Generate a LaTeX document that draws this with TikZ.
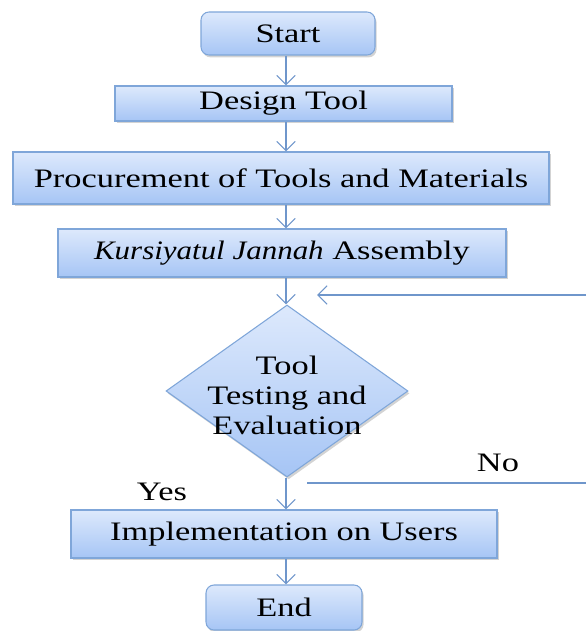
\documentclass[tikz,border=0pt]{standalone}
\usepackage{fontspec}
\setmainfont{Liberation Serif}[FakeStretch=1.29]
\usetikzlibrary{shapes.geometric,arrows.meta,shadows}
\definecolor{boxtop}{HTML}{DDE9FC}
\definecolor{boxbot}{HTML}{A6C5F5}
\definecolor{boxline}{HTML}{7FA6D9}
\definecolor{arrowcol}{HTML}{6F96CB}
\tikzset{
  flowbox/.style={draw=boxline, line width=0.8pt, top color=boxtop, bottom color=boxbot,
    inner sep=0pt, font=\fontsize{20}{23}\selectfont,
    drop shadow={opacity=0.35, shadow xshift=1.2pt, shadow yshift=-1.8pt}},
  termbox/.style={flowbox, rounded corners=6pt},
  decbox/.style={diamond, draw=boxline, line width=0.8pt, top color=boxtop, bottom color=boxbot,
    inner sep=0pt, drop shadow={opacity=0.35, shadow xshift=1.2pt, shadow yshift=-1.8pt}},
  flowarrow/.style={draw=arrowcol, line width=0.8pt, -{Straight Barb[length=7pt,width=14pt]}},
  flowline/.style={draw=arrowcol, line width=0.8pt},
  lbl/.style={font=\fontsize{20}{23}\selectfont, inner sep=0pt}
}
\begin{document}
\begin{tikzpicture}[x=0.75pt, y=-0.75pt]
\useasboundingbox (0,0) rectangle (586,631);

% process chain
\node[termbox, minimum width=130.5pt, minimum height=32.25pt] (start) at (288,33.5) {Start};
\node[flowbox, minimum width=252.75pt, minimum height=26.25pt] (design) at (283.5,103.5) {Design Tool};
\node[flowbox, minimum width=402pt, minimum height=39pt] (proc) at (281,178) {Procurement of Tools and Materials};
\node[flowbox, minimum width=336pt, minimum height=36pt] (assy) at (282,253) {\scalebox{0.9}[1]{\itshape Kursiyatul Jannah} Assembly};
\node[decbox, minimum width=181.5pt, minimum height=129pt] (test) at (287,391) {};
\node[lbl, align=center, font=\fontsize{20}{22.5}\selectfont] (testtxt) at (287,395) {Tool\\Testing and\\Evaluation};
\node[flowbox, minimum width=319.5pt, minimum height=36pt] (impl) at (284,534) {Implementation on Users};
\node[termbox, minimum width=117pt, minimum height=33.75pt] (end) at (284,607.5) {End};

% column of the vertical arrows
\coordinate (ax) at (286,0);

\draw[flowarrow] (start.south -| ax) -- (design.north -| ax);
\draw[flowarrow] (design.south -| ax) -- (proc.north -| ax);
\draw[flowarrow] (proc.south -| ax) -- (assy.north -| ax);
\draw[flowarrow] (assy.south -| ax) -- (test.north -| ax);
\draw[flowarrow] (test.south -| ax) -- (impl.north -| ax);
\draw[flowarrow] (impl.south -| ax) -- (end.north -| ax);

% return path
\coordinate (fbR) at (586,295);
\coordinate (fbL) at (317,295);
\draw[flowarrow] (fbR) -- (fbL);
\coordinate (noL) at (307,483);
\coordinate (noR) at (586,483);
\draw[flowline] (noL) -- (noR);

\node[lbl] (yes) at (162,492) {Yes};
\node[lbl] (no) at (498,463) {No};
\end{tikzpicture}
\end{document}
